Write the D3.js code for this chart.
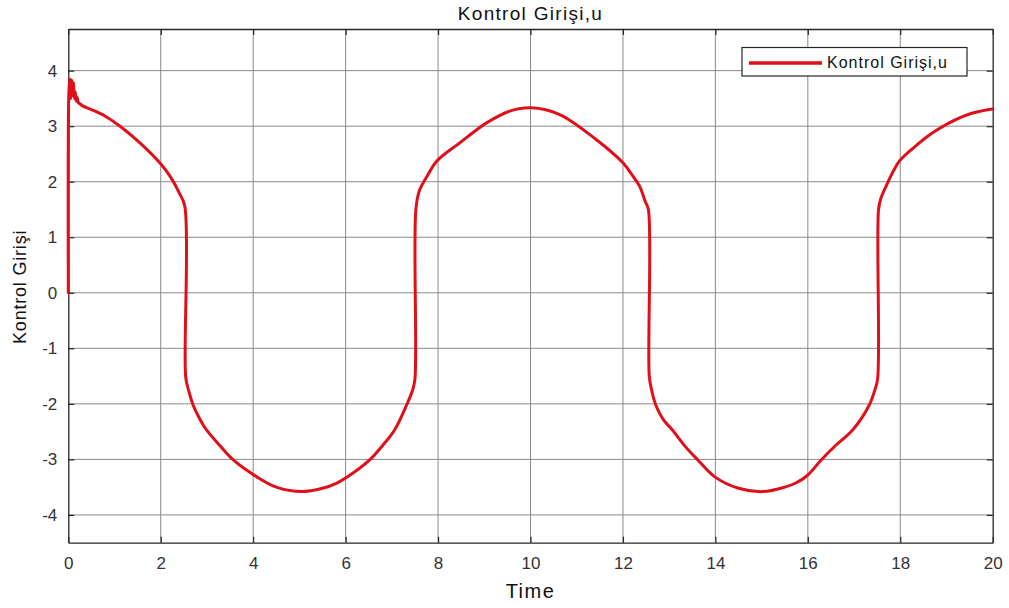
<!DOCTYPE html>
<html>
<head>
<meta charset="utf-8">
<script src="https://cdn.jsdelivr.net/npm/d3@7"></script>
<style>
  html, body { margin: 0; padding: 0; background: #fff; }
  svg { display: block; font-family: "Liberation Sans", Arial, Helvetica, sans-serif; }
</style>
</head>
<body>
<svg id="chart" width="1009" height="608"></svg>
<script>
// Simulation time (s)
const time = [
  0, 0.01, 0.03, 0.05, 0.07, 0.09, 0.11, 0.13, 0.15, 0.17, 0.19, 0.22, 0.26, 0.3,
  0.5, 0.8, 1.12, 1.55, 1.98, 2.2, 2.4, 2.52, 2.54,
  2.6, 2.7, 2.85, 2.99, 3.3, 3.57, 4.07, 4.5, 5.05, 5.5, 5.8, 6.05, 6.52, 6.8, 7.06, 7.32, 7.45, 7.5, 7.52,
  7.6, 7.75, 7.97, 8.47, 9.05, 9.55, 10.02, 10.63, 11.42, 12.0, 12.2, 12.36, 12.48, 12.55, 12.57,
  12.62, 12.71, 12.87, 13.07, 13.35, 13.62, 13.98, 14.5, 15.03, 15.5, 15.75, 15.99, 16.29, 16.6, 16.97, 17.33, 17.45, 17.51, 17.53,
  17.58, 17.66, 17.98, 18.3, 18.7, 19.06, 19.5, 19.92, 20
];
// Control input u
const controlInput = [
  0, 3.55, 3.85, 3.5, 3.83, 3.55, 3.78, 3.5, 3.62, 3.45, 3.52, 3.42, 3.4, 3.37,
  3.3, 3.18, 3.0, 2.7, 2.34, 2.1, 1.8, 1.56, -1.52,
  -1.75, -2.02, -2.28, -2.47, -2.77, -3.01, -3.31, -3.5, -3.58, -3.52, -3.43, -3.31, -3.01, -2.75, -2.47, -2.02, -1.75, -1.55, 1.5,
  1.85, 2.08, 2.37, 2.7, 3.06, 3.27, 3.33, 3.21, 2.76, 2.34, 2.12, 1.92, 1.65, 1.5, -1.5,
  -1.75, -2.02, -2.28, -2.47, -2.77, -3.01, -3.31, -3.52, -3.58, -3.5, -3.42, -3.29, -3.01, -2.75, -2.47, -2.02, -1.75, -1.55, 1.5,
  1.7, 1.86, 2.37, 2.62, 2.88, 3.06, 3.22, 3.3, 3.31
];
const xTicks = [0, 2, 4, 6, 8, 10, 12, 14, 16, 18, 20];
const yTicks = [-4, -3, -2, -1, 0, 1, 2, 3, 4];
const titleText = "Kontrol Girişi,u";
const xLabel = "Time";
const yLabel = "Kontrol Girişi";
const seriesName = "Kontrol Girişi,u";

const svg = d3.select("#chart");
const plot = { left: 68.3, right: 992.7, top: 29, bottom: 542.7 };

const x = d3.scaleLinear().domain([0, 20]).range([plot.left, plot.right]);
const y = d3.scaleLinear().domain([-4.5, 4.75]).range([plot.bottom, plot.top]);

const ink = "#262626";
const gridColor = "#8a8a8a";
const lineColor = "#e0101a";

// grid
const grid = svg.append("g");
grid.selectAll("line.vx").data(xTicks.filter(d => d > 0 && d < 20)).join("line")
  .attr("x1", d => x(d)).attr("x2", d => x(d))
  .attr("y1", plot.top).attr("y2", plot.bottom)
  .attr("stroke", gridColor).attr("stroke-width", 1);
grid.selectAll("line.hy").data(yTicks).join("line")
  .attr("x1", plot.left).attr("x2", plot.right)
  .attr("y1", d => y(d)).attr("y2", d => y(d))
  .attr("stroke", gridColor).attr("stroke-width", 1);

// axes (ticks inward, boxed)
const tickLen = 6;
const fmt = d => String(d);
const axBottom = d3.axisBottom(x).tickValues(xTicks).tickFormat(fmt).tickSizeInner(-tickLen).tickSizeOuter(0).tickPadding(14);
const axLeft = d3.axisLeft(y).tickValues(yTicks).tickFormat(fmt).tickSizeInner(-tickLen).tickSizeOuter(0).tickPadding(11);
const axTop = d3.axisTop(x).tickValues(xTicks).tickSizeInner(-tickLen).tickSizeOuter(0).tickFormat("");
const axRight = d3.axisRight(y).tickValues(yTicks).tickSizeInner(-tickLen).tickSizeOuter(0).tickFormat("");

function styleAxis(g) {
  g.selectAll(".domain").attr("stroke", ink).attr("stroke-width", 1.3);
  g.selectAll(".tick line").attr("stroke", ink).attr("stroke-width", 1.2);
  g.selectAll(".tick text").attr("fill", "#333").attr("font-size", 17)
    .attr("font-family", "Liberation Sans, Arial, sans-serif");
}
svg.append("g").attr("transform", `translate(0,${plot.bottom})`).call(axBottom).call(styleAxis);
svg.append("g").attr("transform", `translate(${plot.left},0)`).call(axLeft).call(styleAxis);
svg.append("g").attr("transform", `translate(0,${plot.top})`).call(axTop).call(styleAxis);
svg.append("g").attr("transform", `translate(${plot.right},0)`).call(axRight).call(styleAxis);

// control input curve
const pts = time.map((t, i) => [t, controlInput[i]]);
const line = d3.line().x(d => x(d[0])).y(d => y(d[1])).curve(d3.curveCatmullRom.alpha(0.5));
svg.append("path").datum(pts)
  .attr("d", line)
  .attr("fill", "none")
  .attr("stroke", lineColor)
  .attr("stroke-width", 3)
  .attr("stroke-linejoin", "round")
  .attr("stroke-linecap", "round");

// title and axis labels
svg.append("text").attr("x", (plot.left + plot.right) / 2).attr("y", 20)
  .attr("text-anchor", "middle").attr("font-size", 19).attr("letter-spacing", 1.3)
  .attr("fill", "#111").text(titleText);
svg.append("text").attr("x", (plot.left + plot.right) / 2).attr("y", 598)
  .attr("text-anchor", "middle").attr("font-size", 20).attr("letter-spacing", 1.5)
  .attr("fill", "#111").text(xLabel);
svg.append("text").attr("transform", `translate(26,${(plot.top + plot.bottom) / 2 + 1}) rotate(-90)`)
  .attr("text-anchor", "middle").attr("font-size", 18).attr("letter-spacing", 0.8)
  .attr("fill", "#111").text(yLabel);

// legend
const legend = svg.append("g");
legend.append("rect").attr("x", 742).attr("y", 47.5).attr("width", 225).attr("height", 28.5)
  .attr("fill", "#fff").attr("stroke", ink).attr("stroke-width", 1.2);
legend.append("line").attr("x1", 749).attr("x2", 822).attr("y1", 63).attr("y2", 63)
  .attr("stroke", lineColor).attr("stroke-width", 3.5);
legend.append("text").attr("x", 827).attr("y", 68).attr("font-size", 16).attr("letter-spacing", 1)
  .attr("fill", "#111").text(seriesName);
</script>
</body>
</html>
